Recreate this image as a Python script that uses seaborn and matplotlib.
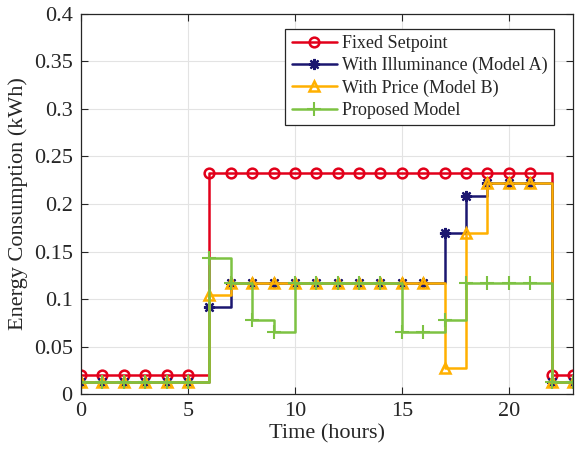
import numpy as np
import pandas as pd
import matplotlib
matplotlib.use("Agg")
import matplotlib.pyplot as plt
import seaborn as sns

hours = list(range(24))

fixed_setpoint = [0.020] * 6 + [0.233] * 16 + [0.020] * 2
model_a = ([0.013] * 6 + [0.092] + [0.117] * 10 +
           [0.169, 0.208, 0.222, 0.222, 0.222] + [0.013] * 2)
model_b = ([0.013] * 6 + [0.104] + [0.117] * 10 +
           [0.027, 0.169, 0.222, 0.222, 0.222] + [0.013] * 2)
proposed = ([0.013] * 6 + [0.143, 0.117, 0.078, 0.0655] + [0.117] * 5 +
            [0.0655, 0.0655, 0.078] + [0.117] * 4 + [0.013] * 2)

series_names = ["Fixed Setpoint", "With Illuminance (Model A)",
                "With Price (Model B)", "Proposed Model"]
series_values = [fixed_setpoint, model_a, model_b, proposed]
colors = ["#E2001A", "#1B1670", "#FFB000", "#7DC243"]
markers = ["o", (8, 2, 0), "^", "+"]

sns.set_theme(style="whitegrid")
plt.rcParams["font.family"] = ["Liberation Serif", "DejaVu Serif"]

fig = plt.figure(figsize=(5.76, 4.57), dpi=100)
ax = fig.add_axes([0.1406, 0.1378, 0.9948 - 0.1406, 0.9694 - 0.1378])

for name, vals, c, m in zip(series_names, series_values, colors, markers):
    df = pd.DataFrame({"hour": hours, "energy": vals})
    kw = dict(markerfacecolor="none", markeredgecolor=c,
              markeredgewidth=1.8, markersize=7)
    if isinstance(m, tuple):
        kw.update(markersize=8, markeredgewidth=1.6)
    if m == "+":
        kw.update(markersize=10, markeredgewidth=1.5)
    sns.lineplot(data=df, x="hour", y="energy", ax=ax, color=c,
                 marker=m, linewidth=1.8, drawstyle="steps-post",
                 label=name, **kw)

ax.set_xlim(0, 23)
ax.set_ylim(0, 0.4)
ax.set_xticks([0, 5, 10, 15, 20])
yt = np.round(np.arange(0, 0.401, 0.05), 2)
ax.set_yticks(yt)
ax.set_yticklabels(["0"] + [f"{v:g}" for v in yt[1:]])

ax.set_facecolor("white")
ax.grid(True, color="#E3E3E3", linewidth=0.8)
for s in ax.spines.values():
    s.set_visible(True)
    s.set_color("#262626")
    s.set_linewidth(0.9)
ax.tick_params(direction="in", length=5, width=0.8, colors="#262626",
               labelsize=16, labelcolor="#262626",
               top=True, right=True, bottom=True, left=True, pad=6)

ax.set_xlabel("Time (hours)", fontsize=16, color="#262626", labelpad=2)
ax.set_ylabel("Energy Consumption (kWh)", fontsize=16, color="#262626",
              labelpad=4)

leg = ax.legend(loc="upper right", fontsize=13, frameon=True,
                fancybox=False, framealpha=1, edgecolor="#262626",
                handlelength=2.5, borderpad=0.35, labelspacing=0.28,
                handletextpad=0.3, borderaxespad=0.5,
                bbox_to_anchor=(0.98, 0.985))
leg.get_frame().set_linewidth(0.9)

fig.savefig("out.png", dpi=100)
